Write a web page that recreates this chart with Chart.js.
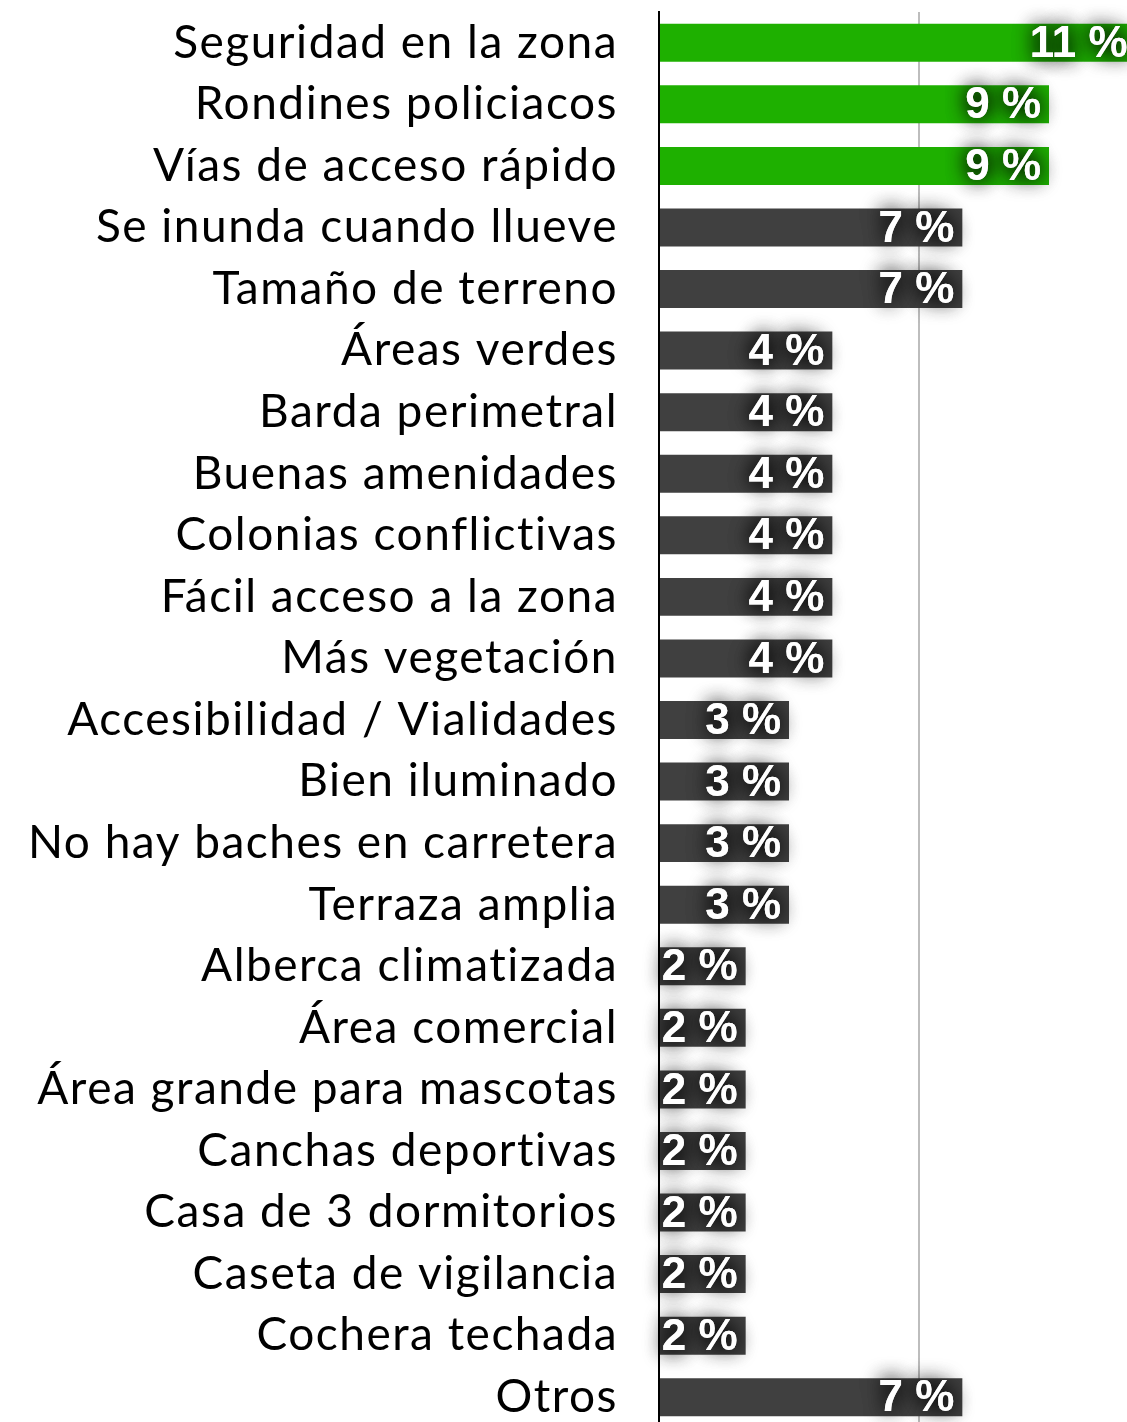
<!DOCTYPE html>
<html>
<head>
<meta charset="utf-8">
<script src="https://cdn.jsdelivr.net/npm/chart.js@4/dist/chart.umd.min.js"></script>
<style>
  html, body { margin: 0; padding: 0; background: #fff; overflow: hidden; }
  #wrap { width: 1127px; height: 1422px; overflow: hidden; position: relative; }
  canvas { position: absolute; left: 0; top: 0; }
</style>
</head>
<body>
<div id="wrap"><canvas id="c" width="1180" height="1430"></canvas></div>
<script>
// Survey answers: what people value in the area / property (percent of mentions)
const categories = [
  'Seguridad en la zona', 'Rondines policiacos', 'Vías de acceso rápido',
  'Se inunda cuando llueve', 'Tamaño de terreno', 'Áreas verdes',
  'Barda perimetral', 'Buenas amenidades', 'Colonias conflictivas',
  'Fácil acceso a la zona', 'Más vegetación', 'Accesibilidad / Vialidades',
  'Bien iluminado', 'No hay baches en carretera', 'Terraza amplia',
  'Alberca climatizada', 'Área comercial', 'Área grande para mascotas',
  'Canchas deportivas', 'Casa de 3 dormitorios', 'Caseta de vigilancia',
  'Cochera techada', 'Otros'
];
const percentages = [11, 9, 9, 7, 7, 4, 4, 4, 4, 4, 4, 3, 3, 3, 3, 2, 2, 2, 2, 2, 2, 2, 7];
const highlighted = [true, true, true, false, false, false, false, false, false, false, false, false,
  false, false, false, false, false, false, false, false, false, false, false];
const axisTicks = [0, 6, 12];

const GREEN = '#1eb000';
const DARK = '#404040';
const LABEL_SPACING = '1.5px';

// Slightly wider tracking for the category labels
const tracking = {
  id: 'tracking',
  beforeUpdate(chart) { chart.ctx.letterSpacing = LABEL_SPACING; },
  beforeDraw(chart) { chart.ctx.letterSpacing = LABEL_SPACING; }
};

// Value labels drawn inside the end of each bar, white with a soft dark glow
const valueLabels = {
  id: 'valueLabels',
  afterDatasetsDraw(chart) {
    const ctx = chart.ctx;
    const meta = chart.getDatasetMeta(0);
    ctx.save();
    ctx.letterSpacing = '0px';
    ctx.font = 'bold 44px "Liberation Sans", Arial, sans-serif';
    ctx.textAlign = 'right';
    ctx.textBaseline = 'middle';
    ctx.fillStyle = '#fff';
    ctx.shadowColor = 'rgba(0,0,0,0.9)';
    ctx.shadowBlur = 20;
    // two passes make the glow denser
    for (let pass = 0; pass < 2; pass++) {
      meta.data.forEach((bar, i) => {
        const txt = percentages[i] + ' %';
        ctx.fillText(txt, Math.min(bar.x, 1136) - 8, bar.y + 2);
      });
    }
    ctx.restore();
  }
};

new Chart(document.getElementById('c'), {
  type: 'bar',
  data: {
    labels: categories,
    datasets: [{
      data: percentages,
      backgroundColor: highlighted.map(h => h ? GREEN : DARK),
      borderWidth: 0,
      barPercentage: 0.617,
      categoryPercentage: 1
    }]
  },
  options: {
    indexAxis: 'y',
    responsive: false,
    animation: false,
    devicePixelRatio: 1,
    layout: { padding: { top: 12, bottom: 2, right: 1, left: 0 } },
    plugins: { legend: { display: false }, tooltip: { enabled: false } },
    scales: {
      x: {
        min: axisTicks[0],
        max: axisTicks[axisTicks.length - 1],
        afterBuildTicks: (scale) => { scale.ticks = axisTicks.map(v => ({ value: v })); },
        afterFit: (scale) => {
          scale.height = 0;
          scale.paddingLeft = 0; scale.paddingRight = 0;
        },
        ticks: { display: false },
        border: { display: false },
        grid: {
          drawTicks: false,
          lineWidth: 2,
          color: (c) => (c.tick && c.tick.value === 6) ? '#bdbdbd' : 'rgba(0,0,0,0)'
        }
      },
      y: {
        afterFit: (scale) => {
          scale.width = 659;
          scale.paddingTop = 0; scale.paddingBottom = 0;
        },
        border: { display: true, color: '#000', width: 2 },
        grid: { display: false, drawTicks: false },
        ticks: {
          color: '#000',
          padding: 41,
          font: { family: 'Lato', size: 46, weight: '400' }
        }
      }
    }
  },
  plugins: [tracking, valueLabels]
});
</script>
</body>
</html>
